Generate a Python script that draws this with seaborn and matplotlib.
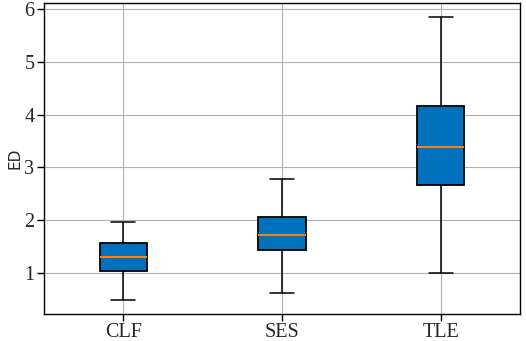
import numpy as np
import pandas as pd
import matplotlib
matplotlib.use('Agg')
import matplotlib.pyplot as plt
import seaborn as sns

# Five-number summaries (whislo, q1, median, q3, whishi)
groups = ["CLF", "SES", "TLE"]
clf_vals = [0.49, 1.03, 1.30, 1.56, 1.955]
ses_vals = [0.61, 1.44, 1.71, 2.05, 2.77]
tle_vals = [1.00, 2.67, 3.39, 4.16, 5.85]

df = pd.DataFrame({
    "group": np.repeat(groups, 5),
    "ED": clf_vals + ses_vals + tle_vals,
})

sns.set_style("whitegrid")
plt.rcParams['font.family'] = 'serif'
plt.rcParams['font.serif'] = ['Liberation Serif', 'DejaVu Serif']

fig, ax = plt.subplots(figsize=(5.26, 3.41), dpi=100)
fig.subplots_adjust(left=0.0837, right=0.9886, top=0.991, bottom=0.080)

sns.boxplot(data=df, x="group", y="ED", ax=ax, width=0.3, whis=(0, 100),
            color="#0072BD", saturation=1, linecolor="black", linewidth=1.1,
            medianprops=dict(color="#ff7f0e", linewidth=1.5),
            boxprops=dict(edgecolor="black", linewidth=1.3),
            capprops=dict(color="black", linewidth=1.1),
            whiskerprops=dict(color="black", linewidth=1.1))

ax.set_xlim(-0.5, 2.5)
ax.grid(True, color="#b0b0b0", linewidth=0.8)
ax.set_axisbelow(True)
for s in ax.spines.values():
    s.set_color("black")
    s.set_linewidth(1.0)
ax.tick_params(axis="both", direction="out", length=5, width=1, color="black",
               labelsize=14.5, left=True, bottom=True, pad=2)
ax.set_xlabel("")
ax.set_ylabel("ED", fontfamily="sans-serif", fontsize=11, labelpad=1)
ax.set_yticks([1, 2, 3, 4, 5, 6])

fig.savefig("out.png", dpi=100)
